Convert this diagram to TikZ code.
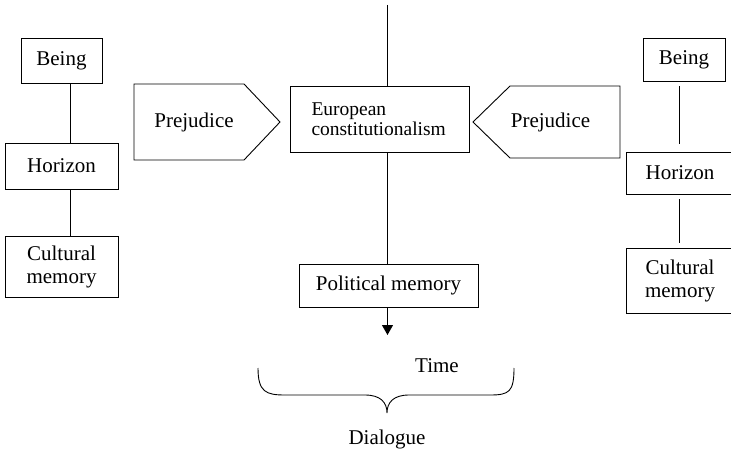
\documentclass[tikz,border=0pt]{standalone}
\usepackage{fontspec}
\setmainfont{Liberation Serif}
\usetikzlibrary{arrows.meta}
\begin{document}
\begin{tikzpicture}[x=1pt,y=-1pt, line width=0.9pt,
  box/.style={draw, inner sep=0pt, align=center, font=\fontsize{21}{23}\selectfont},
  lbl/.style={inner sep=0pt, font=\fontsize{21}{23}\selectfont}]
\useasboundingbox (0,0) rectangle (731,452);
\clip (0,0) rectangle (731,452);
% left column
\node[box, minimum width=81pt, minimum height=45pt] (beingL) at (61.5,60.5) {Being};
\node[box, minimum width=113pt, minimum height=46pt] (horL) at (61.5,166) {Horizon};
\node[box, minimum width=113pt, minimum height=61pt] (cultL) at (61.5,266.5) {Cultural\\memory};
\coordinate (lx) at (70,0);
\draw (beingL.south -| lx) -- (horL.north -| lx);
\draw (horL.south -| lx) -- (cultL.north -| lx);
% right column
\node[box, minimum width=82pt, minimum height=43pt] (beingR) at (684,59.5) {Being};
\node[box, minimum width=108pt, minimum height=42pt] (horR) at (680,173) {Horizon};
\node[box, minimum width=108pt, minimum height=65pt] (cultR) at (680,280.5) {Cultural\\memory};
\coordinate (rx) at (679,0);
\draw[shorten <=5pt, shorten >=8pt] (beingR.south -| rx) -- (horR.north -| rx);
\draw[shorten <=5pt, shorten >=5pt] (horR.south -| rx) -- (cultR.north -| rx);
% prejudice shapes
\node[lbl] (prejL) at (194,122) {Prejudice};
\draw (134,84) -- (244,84) -- (280,122) -- (244,160) -- (134,160) -- cycle;
\node[lbl] (prejR) at (550.5,122) {Prejudice};
\draw (620,86) -- (510,86) -- (473,122) -- (510,158) -- (620,158) -- cycle;
% centre
\node[draw, minimum width=179pt, minimum height=66pt, text width=136pt, inner xsep=0pt, inner ysep=0pt, align=left, font=\fontsize{19.5}{20}\selectfont] (euro) at (379.5,119) {European\\constitutionalism};
\coordinate (top) at (387.5,5);
\draw (top) -- (top |- euro.north);
\node[box, minimum width=179pt, minimum height=43pt] (pol) at (388.5,285.5) {Political memory};
\draw (top |- euro.south) -- (top |- pol.north);
\coordinate (arr) at (387.5,335);
\draw[-{Triangle[length=10pt,width=11pt]}] (top |- pol.south) -- (arr);
% time and dialogue
\node[lbl, anchor=base] (time) at (437,372) {Time};
\draw (258,368) .. controls (258,392) and (266,395) .. (285,395) -- (365,395) .. controls (380,395) and (387,402) .. (387,413) .. controls (387,402) and (394,395) .. (409,395) -- (490,395) .. controls (509,395) and (514,392) .. (514,368);
\node[lbl, anchor=base] (dia) at (387,444) {Dialogue};
\end{tikzpicture}
\end{document}
